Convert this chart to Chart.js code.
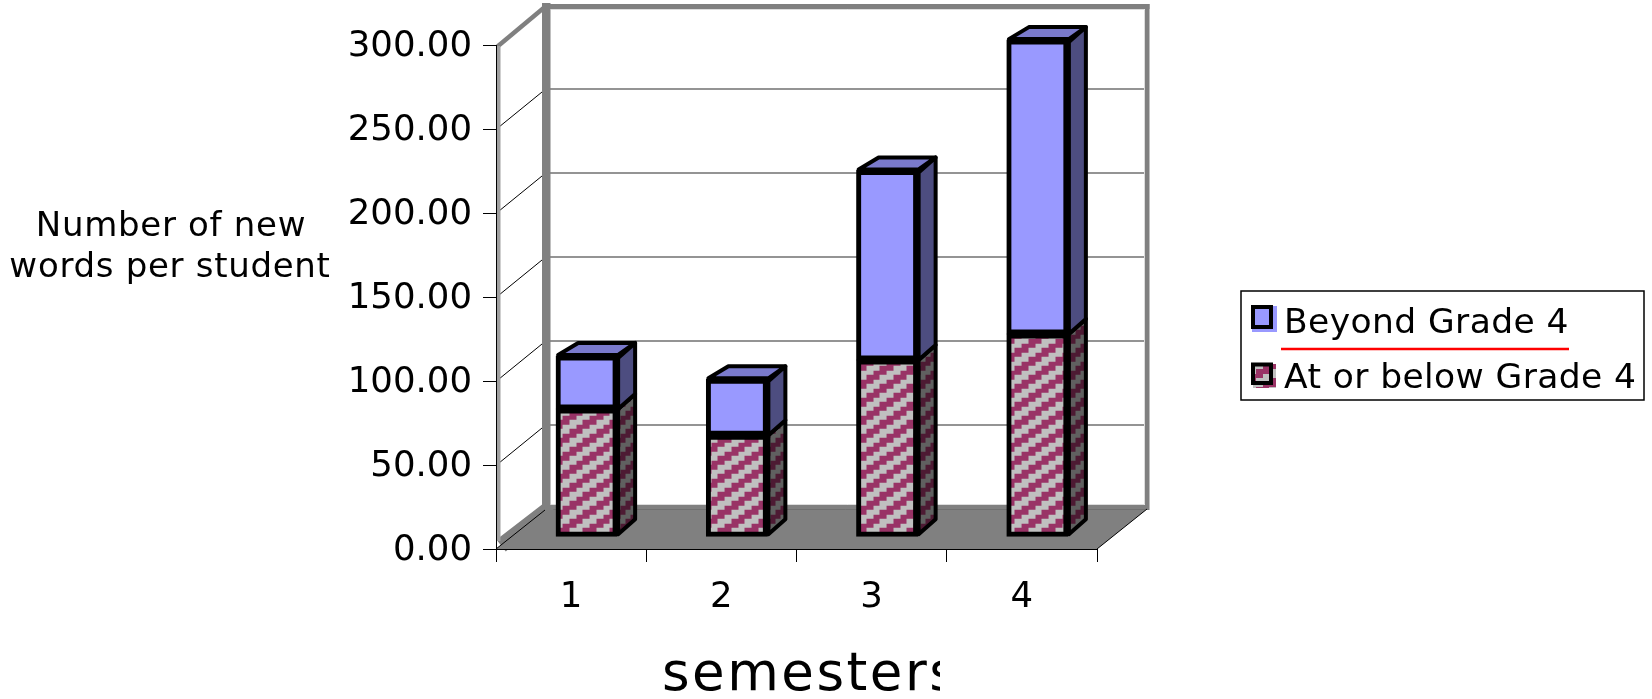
<!DOCTYPE html>
<html>
<head>
<meta charset="utf-8">
<style>
  html, body { margin: 0; padding: 0; background: #fff; }
  #wrap { width: 1652px; height: 699px; }
  canvas { display: block; }
</style>
<script src="https://cdn.jsdelivr.net/npm/chart.js@4/dist/chart.umd.js"></script>
</head>
<body>
<div id="wrap"><canvas id="c" width="1652" height="699"></canvas></div>
<script>
const semesters = ['1', '2', '3', '4'];
const atOrBelow = [76, 60.4, 105.2, 120.7];
const beyond = [31.6, 33.3, 112.8, 174.9];
const seriesNames = ['At or below Grade 4', 'Beyond Grade 4'];
const xTitle = 'semesters';
const yTitleLines = ['Number of new', 'words per student'];

const FONT = '"DejaVu Sans"';
const BLUE = '#9999FF', BLUE_SIDE = '#4D4D80', BLUE_TOP = '#7A7ACC';
const MAROON = '#993366', SILVER = '#C0C0C0';
const MAROON_DARK = '#4D1A33', SILVER_DARK = '#606060';
const FRAME = '#808080';

// Room depth of the 3D box and where the bars sit inside it.
const WALL_DX = 50, WALL_DY = -40;
const BAR_DX = 15.5, BAR_DY = -12.3;
const SIDE_DX = 20, SIDE_DY = -15;

// Stair-stepped diagonal fill, tiled from a small offscreen canvas.
function stairTile(a, b, W, H) {
  const cells = 4;
  const t = document.createElement('canvas');
  t.width = W;
  t.height = H;
  const g = t.getContext('2d');
  for (let y = 0; y < H; y++) {
    const row = Math.floor(y * cells / H);
    for (let x = 0; x < W; x++) {
      const col = Math.floor(x * cells / W);
      g.fillStyle = (col + row) % cells < cells / 2 ? a : b;
      g.fillRect(x, y, 1, 1);
    }
  }
  return t;
}
const ctx0 = document.getElementById('c').getContext('2d');
const hatch = ctx0.createPattern(stairTile(MAROON, SILVER, 27, 18), 'repeat');
const hatchDark = ctx0.createPattern(stairTile(MAROON_DARK, SILVER_DARK, 20, 18), 'repeat');

function poly(ctx, pts) {
  ctx.beginPath();
  pts.forEach((p, i) => (i ? ctx.lineTo(p[0], p[1]) : ctx.moveTo(p[0], p[1])));
  ctx.closePath();
}

// Floor, walls and back-wall gridlines of the 3D room.
const roomPlugin = {
  id: 'room',
  beforeDraw(chart) {
    const { ctx, chartArea: a, scales: { y } } = chart;
    const L = a.left, R = a.right, T = a.top, B = a.bottom;
    const dx = WALL_DX, dy = WALL_DY;
    ctx.save();
    ctx.fillStyle = FRAME;
    poly(ctx, [[L, B], [R, B], [R + dx, B + dy], [L + dx, B + dy]]);
    ctx.fill();
    ctx.fillRect(L + dx, B + dy - 4, R - L, 5);
    ctx.strokeStyle = '#707070';
    ctx.lineWidth = 1;
    ctx.beginPath();
    ctx.moveTo(L + dx, B + dy + 0.5);
    ctx.lineTo(R + dx - 2, B + dy + 0.5);
    ctx.stroke();

    // gridlines on the back wall, and their continuation down the side wall
    y.ticks.forEach(t => {
      const py = y.getPixelForValue(t.value);
      if (t.value > 0 && t.value < 300) {
        ctx.strokeStyle = '#707070';
        ctx.lineWidth = 1.6;
        ctx.beginPath();
        ctx.moveTo(L + dx, py + dy);
        ctx.lineTo(R + dx, py + dy);
        ctx.stroke();
        ctx.strokeStyle = '#000';
        ctx.lineWidth = 1;
        ctx.beginPath();
        ctx.moveTo(L + 3, py - 2);
        ctx.lineTo(L + dx - 4, py + dy + 3);
        ctx.stroke();
      }
    });

    // gray frame: back-left pillar, top rail, right rail, side-wall edges
    ctx.strokeStyle = '#DDDDDD';
    ctx.lineWidth = 1;
    ctx.beginPath();
    ctx.moveTo(L + dx + 5, B + dy - 4.5);
    ctx.lineTo(R + dx - 2.5, B + dy - 4.5);
    ctx.lineTo(R + dx - 2.5, T + dy + 4.5);
    ctx.lineTo(L + dx + 5, T + dy + 4.5);
    ctx.stroke();
    ctx.fillStyle = FRAME;
    ctx.fillRect(L + dx - 4, T + dy - 2, 8.5, B - T + 2);
    ctx.fillRect(L + dx - 4, T + dy - 1, R - L + 6.5, 5);
    ctx.fillRect(R + dx - 2, T + dy - 1, 4.5, B - T + 2);
    ctx.strokeStyle = FRAME;
    ctx.lineWidth = 4.5;
    ctx.beginPath();
    ctx.moveTo(L + 1.5, T + 1.5);
    ctx.lineTo(L + dx, T + dy + 1);
    ctx.stroke();
    ctx.lineWidth = 3.5;
    ctx.beginPath();
    ctx.moveTo(L + 3, B - 9);
    ctx.lineTo(L + dx - 3, B + dy - 3);
    ctx.lineTo(L + dx + 5, B + dy);
    ctx.lineTo(L + 10, B);
    ctx.closePath();
    ctx.fillStyle = FRAME;
    ctx.fill();
    ctx.stroke();
    ctx.fillStyle = '#A0A0A0';
    ctx.fillRect(L + 1, T + 1, 3.5, B - T - 9);

    // black edges of the floor
    ctx.strokeStyle = '#000';
    ctx.lineWidth = 1;
    ctx.beginPath();
    ctx.moveTo(L, B);
    ctx.lineTo(L + dx - 1, B + dy + 1);
    ctx.moveTo(R, B);
    ctx.lineTo(R + dx, B + dy);
    ctx.stroke();
    ctx.restore();
  },
  // Depth faces go down first, then the library paints the bar fronts on top.
  beforeDatasetsDraw(chart) {
    const { ctx } = chart;
    const top = chart.data.datasets.length - 1;
    ctx.save();
    ctx.translate(BAR_DX, BAR_DY);
    chart.data.datasets.forEach((ds, di) => {
      chart.getDatasetMeta(di).data.forEach(el => {
        const { x, y, base, width } = el.getProps(['x', 'y', 'base', 'width'], true);
        const l = x - width / 2, r = x + width / 2;
        const isTop = di === top, isBottom = di === 0;
        const yT = isTop ? y + 2 : y, yB = isBottom ? base - 2 : base;
        ctx.lineJoin = 'round';
        ctx.lineWidth = 4;
        ctx.strokeStyle = '#000';
        poly(ctx, [[r + 1, yT], [r - 2 + SIDE_DX, yT + SIDE_DY], [r - 2 + SIDE_DX, yB + SIDE_DY], [r + 1, yB]]);
        ctx.fillStyle = isTop ? BLUE_SIDE : hatchDark;
        ctx.fill();
        ctx.stroke();
        if (isTop) {
          // the front edge of the top face sits just above the front face's border
          poly(ctx, [[l + 2, y - 1], [l + 2 + SIDE_DX, yT + SIDE_DY], [r - 2 + SIDE_DX, yT + SIDE_DY], [r + 1, y - 1]]);
          ctx.fillStyle = BLUE_TOP;
          ctx.fill();
          ctx.stroke();
        }
      });
    });
    ctx.restore();
    ctx.save();
    ctx.translate(BAR_DX, BAR_DY);
  },
  afterDatasetsDraw(chart) {
    chart.ctx.restore();
  }
};

// Horizontal axis captions, and the boxed key at the right.
const captionsPlugin = {
  id: 'captions',
  afterDraw(chart) {
    const { ctx } = chart;
    ctx.save();
    ctx.fillStyle = '#000';
    ctx.textBaseline = 'alphabetic';

    ctx.font = '34px ' + FONT;
    ctx.textAlign = 'center';
    ctx.letterSpacing = '0.7px';
    ctx.fillText(yTitleLines[0], 171, 236);
    ctx.fillText(yTitleLines[1], 170, 277);

    ctx.save();
    ctx.beginPath();
    ctx.rect(600, 620, 340, 79);
    ctx.clip();
    ctx.textAlign = 'left';
    ctx.font = '53px ' + FONT;
    ctx.letterSpacing = '2.5px';
    ctx.fillText(xTitle, 662, 690);
    ctx.restore();

    ctx.letterSpacing = '0px';
    ctx.fillStyle = '#fff';
    ctx.fillRect(1241, 291, 403, 109);
    ctx.strokeStyle = '#000';
    ctx.lineWidth = 1.5;
    ctx.strokeRect(1241, 291, 403, 109);

    ctx.fillStyle = BLUE;
    ctx.fillRect(1252, 306, 25, 26);
    ctx.fillStyle = hatch;
    ctx.fillRect(1253, 364, 23, 24);
    ctx.strokeStyle = '#000';
    ctx.lineWidth = 4;
    ctx.strokeRect(1253, 307, 18, 20);
    ctx.strokeRect(1253, 364.5, 18, 18.5);

    ctx.fillStyle = '#000';
    ctx.textAlign = 'left';
    ctx.font = '34.5px ' + FONT;
    ctx.letterSpacing = '0.4px';
    ctx.fillText(seriesNames[1], 1284, 333);
    ctx.fillText(seriesNames[0], 1284, 388);
    ctx.letterSpacing = '0px';

    ctx.strokeStyle = '#FF0000';
    ctx.lineWidth = 2.5;
    ctx.beginPath();
    ctx.moveTo(1281, 349);
    ctx.lineTo(1569, 349);
    ctx.stroke();
    ctx.restore();
  }
};

new Chart(document.getElementById('c'), {
  type: 'bar',
  data: {
    labels: semesters,
    datasets: [
      { label: seriesNames[0], data: atOrBelow, backgroundColor: hatch },
      { label: seriesNames[1], data: beyond, backgroundColor: BLUE }
    ]
  },
  options: {
    responsive: false,
    animation: false,
    events: [],
    clip: false,
    layout: { padding: { top: 45, right: 555, left: 0, bottom: 0 } },
    datasets: {
      bar: {
        barPercentage: 0.406,
        categoryPercentage: 1,
        borderWidth: 5,
        borderColor: '#000',
        borderSkipped: false,
        inflateAmount: 0.5
      }
    },
    plugins: { legend: { display: false }, tooltip: { enabled: false }, title: { display: false } },
    scales: {
      x: {
        stacked: true,
        afterFit(s) { s.height = 150; },
        grid: { drawOnChartArea: false, drawTicks: true, tickLength: 13, color: '#000', lineWidth: 1, offset: true },
        border: { display: true, color: '#000', width: 1 },
        ticks: { color: '#000', font: { family: 'DejaVu Sans', size: 35.5 }, padding: 14, maxRotation: 0 }
      },
      y: {
        stacked: true,
        min: 0,
        max: 300,
        afterFit(s) { s.width = 496; },
        grid: { drawOnChartArea: false, drawTicks: true, tickLength: 13, color: '#000', lineWidth: 1 },
        border: { display: true, color: '#000', width: 1 },
        ticks: {
          stepSize: 50,
          color: '#000',
          font: { family: 'DejaVu Sans', size: 35.5 },
          padding: 11,
          labelOffset: 2,
          callback: v => v.toFixed(2)
        }
      }
    }
  },
  plugins: [roomPlugin, captionsPlugin]
});
</script>
</body>
</html>
